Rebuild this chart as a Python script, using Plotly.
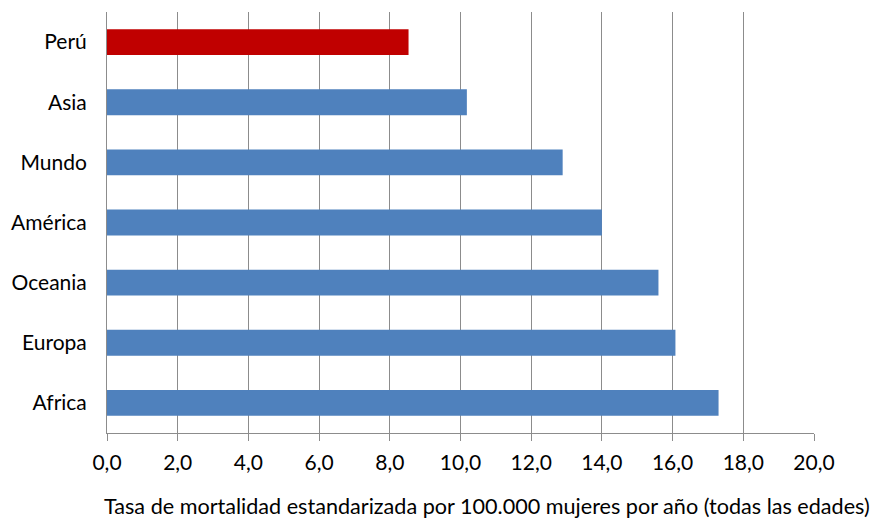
import plotly.graph_objects as go

categories = ["Perú", "Asia", "Mundo", "América", "Oceania", "Europa", "Africa"]
values = [8.53, 10.18, 12.89, 14.0, 15.6, 16.08, 17.3]
colors = ["#C00000"] + ["#4F81BD"] * 6
x_title = "Tasa de mortalidad estandarizada por 100.000 mujeres por año (todas las edades)"

FONT = "Lato"
grid = "#8C8C8C"

fig = go.Figure(go.Bar(
    y=categories, x=values, orientation="h",
    marker=dict(color=colors, line=dict(width=0)),
))

fig.update_layout(
    width=884, height=519,
    margin=dict(l=107, r=70, t=12, b=86, autoexpand=False),
    paper_bgcolor="white", plot_bgcolor="white",
    separators=",.",
    bargap=0.57,
    showlegend=False,
    font=dict(family=FONT, size=21, color="#000000"),
    annotations=[dict(
        text=x_title, xref="paper", yref="paper",
        x=0.537, y=0, yshift=-73, xanchor="center", yanchor="middle",
        showarrow=False, font=dict(family=FONT, size=21.6, color="#000000"),
    )],
)
fig.update_xaxes(
    range=[0, 20], dtick=2, tickformat=".1f",
    showgrid=True, gridcolor=grid, gridwidth=1,
    showline=True, linecolor=grid, linewidth=1,
    ticks="outside", ticklen=7, tickcolor=grid, tickwidth=1,
    zeroline=False, fixedrange=True, automargin=False,
    ticklabelstandoff=4,
    tickfont=dict(family=FONT, size=21),
)
fig.update_yaxes(
    categoryorder="array", categoryarray=categories[::-1],
    showline=True, linecolor=grid, linewidth=1,
    showgrid=False, ticks="", ticklabelstandoff=15, automargin=False,
    fixedrange=True,
    tickfont=dict(family=FONT, size=21),
)

fig.write_html("out.html")
